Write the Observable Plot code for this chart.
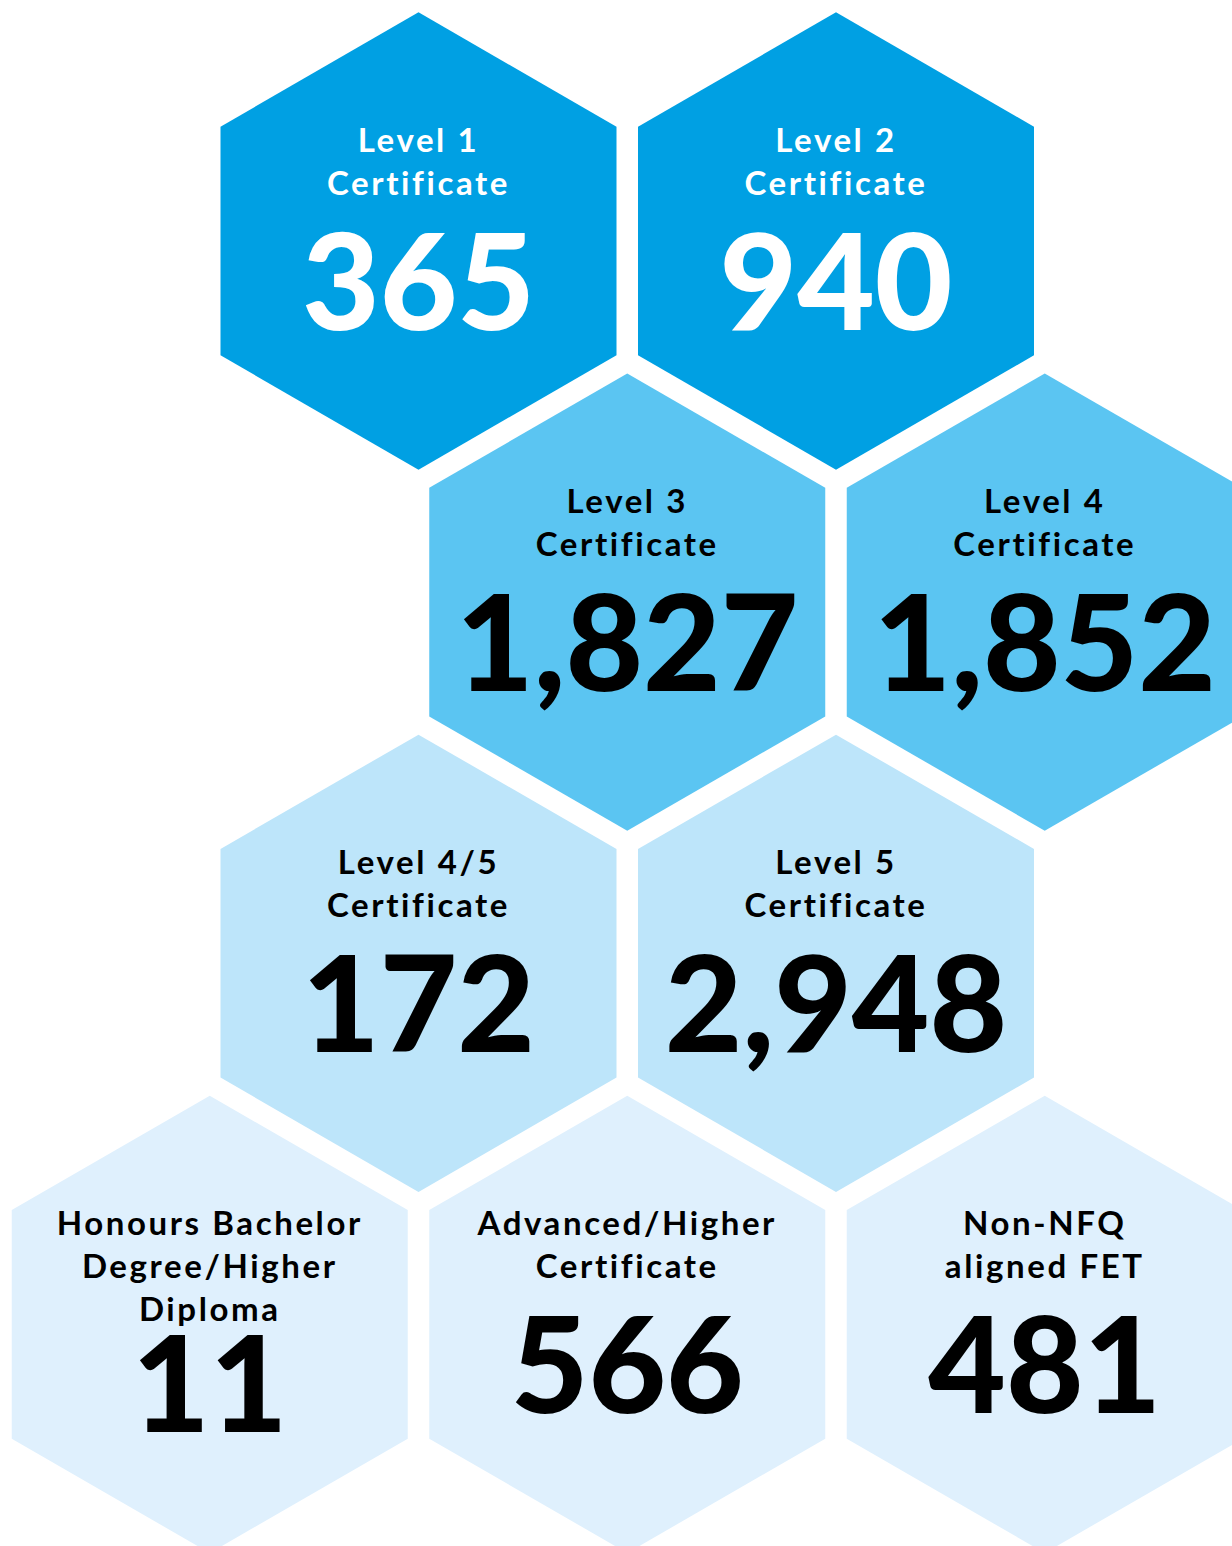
<!DOCTYPE html>
<html>
<head>
<meta charset="utf-8">
<script src="https://cdn.jsdelivr.net/npm/d3@7"></script>
<script src="https://cdn.jsdelivr.net/npm/@observablehq/plot@0.6"></script>
<style>
  html, body { margin: 0; padding: 0; background: #ffffff; }
  #chart svg { display: block; }
  /* multi-line hexagon labels are drawn as tspans: widen them like the reference font */
  #chart svg tspan { letter-spacing: 2.6px; }
</style>
</head>
<body>
<div id="chart"></div>
<script>
// Categories (hex labels), values, and grid placement of each hexagon
const labels = [
  "Level 1\nCertificate",
  "Level 2\nCertificate",
  "Level 3\nCertificate",
  "Level 4\nCertificate",
  "Level 4/5\nCertificate",
  "Level 5\nCertificate",
  "Honours Bachelor\nDegree/Higher\nDiploma",
  "Advanced/Higher\nCertificate",
  "Non-NFQ\naligned FET"
];
const values = [365, 940, 1827, 1852, 172, 2948, 11, 566, 481];
const gridCol = [1, 2, 1.5, 2.5, 1, 2, 0.5, 1.5, 2.5];
const gridRow = [0, 0, 1, 1, 2, 2, 3, 3, 3];
const tiers = ["Tier 1", "Tier 2", "Tier 3", "Tier 4"];
const tierColors = ["#00a0e3", "#5bc5f2", "#bde5fa", "#dff0fd"];

const cells = labels.map((label, i) => ({
  label,
  value: values[i],
  col: gridCol[i],
  row: gridRow[i],
  tier: tiers[gridRow[i]],
  lines: label.split("\n").length
}));

const W = 1232, H = 1546;
const colStep = 417.5;              // horizontal spacing between hex centres
const rowStep = 417 * Math.sqrt(3) / 2;
const labelSize = 33, labelLH = 1.3;
const numSize = 134;
const fmt = d3.format(",");
const font = "Lato, 'Open Sans', sans-serif";

const labelDy = -89 - 0.71 * labelLH * labelSize;

const textMarks = (filter, color) => [
  Plot.text(cells.filter(filter), {
    x: "col", y: "row", text: "label",
    lineAnchor: "top", lineHeight: labelLH,
    dy: labelDy, fontSize: labelSize, fontWeight: 700,
    fontFamily: font, fill: color
  }),
  ...[2, 3].map(n => Plot.text(cells.filter(d => filter(d) && d.lines === n), {
    x: "col", y: "row", text: d => fmt(d.value),
    lineAnchor: "bottom",
    dy: 89 + (n - 2) * 19, fontSize: numSize, fontWeight: 900,
    fontFamily: font, fill: color
  }))
];

const chart = Plot.plot({
  width: W,
  height: H,
  margin: 0,
  style: { fontFamily: font, background: "#ffffff" },
  x: { type: "linear", domain: [0, 3], range: [0.5, 0.5 + 3 * colStep], axis: null },
  y: { type: "linear", domain: [0, 3], range: [240.5, 240.5 + 3 * rowStep], axis: null },
  color: { type: "ordinal", domain: tiers, range: tierColors },
  marks: [
    Plot.dot(cells, { x: "col", y: "row", symbol: "hexagon", r: 198, fill: "tier" }),
    ...textMarks(d => d.row === 0, "#ffffff"),
    ...textMarks(d => d.row > 0, "#000000")
  ]
});

document.getElementById("chart").appendChild(chart);
</script>
</body>
</html>
